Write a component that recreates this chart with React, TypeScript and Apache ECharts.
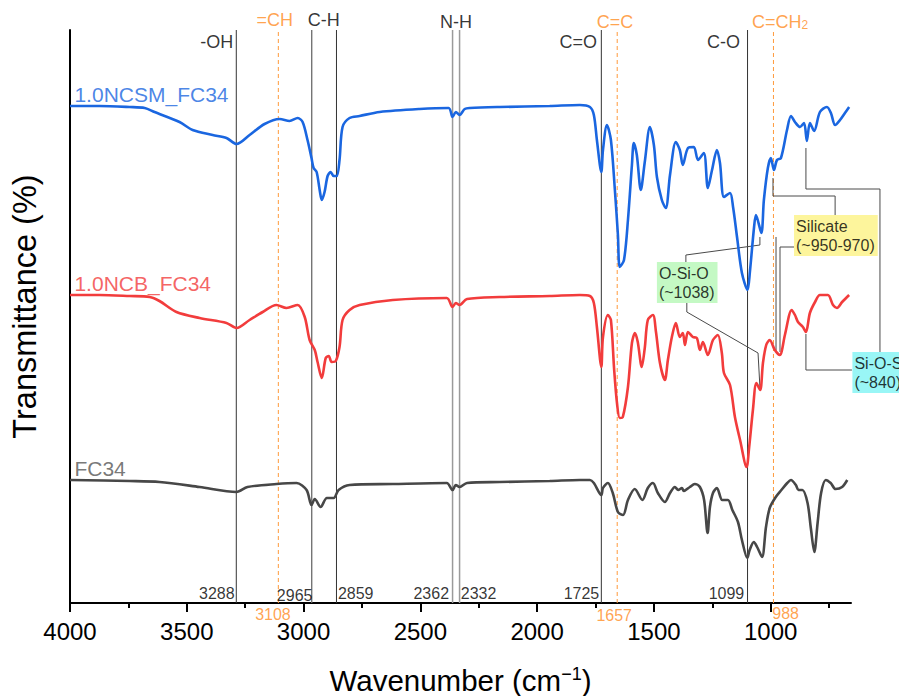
import React, { useEffect, useRef } from 'react';
import * as echarts from 'echarts';

const FONT = '"Liberation Sans", Arial, Helvetica, sans-serif';
const BLACK = '#000000';
const ORANGE = '#ff8c1f';

// ---- spectra (wavenumber cm-1, offset transmittance a.u.) ----
const seriesNames = ['1.0NCSM_FC34', '1.0NCB_FC34', 'FC34'];
const seriesColors = ['#1a66e0', '#f23c3c', '#474747'];

const ncsmData: [number, number][] = [
  [4000, 497], [3874, 497], [3745, 496], [3680, 495], [3638, 491], [3531, 481], [3475, 473], [3389, 468],
  [3330, 465], [3287, 459], [3231, 468], [3167, 479], [3102, 484], [3060, 482], [3025, 485], [3004, 481],
  [2983, 463], [2966, 445], [2957, 435], [2944, 431], [2931, 413], [2922, 403], [2910, 411], [2897, 427],
  [2884, 431], [2871, 427], [2858, 427], [2846, 443], [2833, 476], [2803, 485], [2760, 487], [2674, 491],
  [2503, 494], [2379, 495], [2362, 486], [2348, 491], [2332, 488], [2310, 494], [2288, 495], [2160, 496],
  [1946, 497], [1817, 498], [1774, 496], [1757, 488], [1744, 463], [1725, 431], [1718, 453], [1701, 478],
  [1684, 463], [1667, 413], [1654, 368], [1646, 336], [1628, 343], [1611, 383], [1594, 438], [1586, 460],
  [1573, 448], [1556, 413], [1539, 441], [1517, 476], [1500, 458], [1487, 426], [1466, 403], [1449, 395],
  [1431, 428], [1406, 461], [1389, 453], [1376, 438], [1354, 455], [1329, 456], [1311, 443], [1286, 450],
  [1269, 415], [1251, 433], [1230, 453], [1217, 440], [1200, 406], [1174, 410], [1161, 396], [1144, 366],
  [1123, 330], [1099, 313], [1089, 331], [1071, 376], [1063, 388], [1040, 370], [1029, 403], [1012, 435],
  [999, 445], [986, 433], [973, 443], [956, 445], [930, 473], [913, 487], [896, 481], [874, 476],
  [857, 480], [845, 462], [832, 480], [814, 472], [789, 491], [759, 496], [742, 490], [724, 478],
  [703, 483], [682, 490], [664, 496],
];

const ncbData: [number, number][] = [
  [4000, 308], [3874, 308], [3745, 307], [3659, 306], [3617, 302], [3544, 291], [3445, 285], [3330, 280],
  [3287, 275], [3231, 283], [3175, 291], [3116, 298], [3073, 295], [3025, 298], [2995, 286], [2974, 263],
  [2952, 253], [2940, 241], [2922, 225], [2905, 245], [2892, 247], [2880, 241], [2862, 242], [2846, 256],
  [2833, 283], [2803, 293], [2760, 298], [2618, 303], [2387, 305], [2362, 296], [2348, 300], [2332, 298],
  [2300, 304], [2160, 306], [1946, 307], [1817, 308], [1774, 307], [1757, 300], [1744, 276], [1725, 236],
  [1718, 266], [1697, 288], [1684, 283], [1670, 233], [1658, 200], [1646, 185], [1633, 186], [1611, 216],
  [1594, 260], [1581, 270], [1569, 261], [1552, 236], [1539, 255], [1526, 283], [1504, 288], [1491, 271],
  [1474, 240], [1453, 223], [1440, 243], [1423, 266], [1406, 280], [1389, 266], [1376, 270], [1367, 258],
  [1354, 271], [1333, 266], [1316, 265], [1303, 253], [1290, 261], [1269, 248], [1247, 263], [1226, 268],
  [1209, 250], [1200, 230], [1174, 218], [1153, 186], [1131, 163], [1103, 136], [1092, 156], [1076, 193],
  [1061, 220], [1045, 213], [1033, 240], [1019, 258], [1004, 263], [982, 253], [961, 248], [939, 268],
  [910, 293], [896, 288], [883, 281], [862, 276], [849, 271], [832, 290], [810, 301], [789, 308],
  [755, 308], [733, 298], [716, 295], [694, 301], [664, 308],
];

const fc34Data: [number, number][] = [
  [4000, 123], [3745, 122], [3617, 121], [3445, 116], [3287, 111], [3240, 116], [3116, 119], [3030, 120],
  [2987, 113], [2966, 98], [2952, 104], [2927, 96], [2900, 105], [2871, 105], [2850, 113], [2803, 118],
  [2618, 119], [2387, 120], [2362, 113], [2348, 118], [2332, 116], [2300, 120], [2160, 121], [1946, 122],
  [1817, 123], [1774, 123], [1757, 120], [1725, 108], [1718, 115], [1697, 120], [1676, 110], [1654, 91],
  [1632, 88], [1611, 103], [1582, 114], [1549, 103], [1526, 115], [1504, 120], [1483, 110], [1453, 101],
  [1431, 110], [1410, 116], [1396, 113], [1380, 115], [1372, 112], [1346, 116], [1325, 119], [1303, 116],
  [1285, 103], [1270, 70], [1260, 96], [1247, 110], [1230, 115], [1207, 103], [1183, 103], [1164, 93],
  [1140, 81], [1123, 63], [1100, 45], [1090, 53], [1072, 61], [1058, 56], [1037, 46], [1020, 76],
  [1004, 95], [978, 106], [954, 113], [929, 120], [913, 123], [892, 118], [881, 113], [864, 113],
  [842, 100], [828, 75], [813, 51], [799, 80], [784, 110], [764, 123], [743, 120], [722, 114],
  [694, 116], [672, 123],
];

// ---- axes ----
const X_MIN = 656;
const X_MAX = 4000;
const Y_MAX = 573;
const majorTicks = [1000, 1500, 2000, 2500, 3000, 3500, 4000];
const minorTicks = [750, 1250, 1750, 2250, 2750, 3250, 3750];

const CHART_W = 899;
const CHART_H = 696;
const GRID = { left: 70, right: 48, top: 30, bottom: 93 };
// wide overlay grid (same scale, reaching the right edge) for leader lines
const X_MIN_WIDE =
  X_MAX - ((CHART_W - GRID.left) * (X_MAX - X_MIN)) / (CHART_W - GRID.left - GRID.right);

// ---- band marker lines ----
const solidMarkers = [3288, 2965, 2859, 1725, 1099];
const nhMarkers = [2362, 2332];
const dashedMarkers = [3108, 1657, 988];

// ---- annotation texts ----
type Lbl = {
  text: string; wn: number; v: number; align: 'left' | 'center' | 'right';
  vAlign?: 'top' | 'middle'; color: string; size: number; bg?: string;
};

const bandLabels: Lbl[] = [
  { text: '-OH', wn: 3301, v: 561, align: 'right', color: BLACK, size: 18 },
  { text: '=CH', wn: 3123, v: 583, align: 'center', color: ORANGE, size: 18 },
  { text: 'C-H', wn: 2914, v: 583, align: 'center', color: BLACK, size: 18 },
  { text: 'N-H', wn: 2347, v: 581, align: 'center', color: BLACK, size: 18 },
  { text: 'C=O', wn: 1744, v: 561, align: 'right', color: BLACK, size: 18 },
  { text: 'C=C', wn: 1666, v: 581, align: 'center', color: ORANGE, size: 18 },
  { text: 'C-O', wn: 1131, v: 561, align: 'right', color: BLACK, size: 18 },
  { text: '{a|C=CH}{s|2}', wn: 1080, v: 581, align: 'left', color: ORANGE, size: 18 },
];

const positionLabels: Lbl[] = [
  { text: '3288', wn: 3295, v: 10, align: 'right', color: BLACK, size: 16 },
  { text: '2965', wn: 2962, v: 8, align: 'right', color: BLACK, size: 16 },
  { text: '2859', wn: 2853, v: 10, align: 'left', color: BLACK, size: 16 },
  { text: '2362', wn: 2377, v: 10, align: 'right', color: BLACK, size: 16 },
  { text: '2332', wn: 2327, v: 10, align: 'left', color: BLACK, size: 16 },
  { text: '1725', wn: 1734, v: 10, align: 'right', color: BLACK, size: 16 },
  { text: '1099', wn: 1113, v: 10, align: 'right', color: BLACK, size: 16 },
  { text: '3108', wn: 3131, v: -11, align: 'center', color: ORANGE, size: 16 },
  { text: '1657', wn: 1670, v: -12, align: 'center', color: ORANGE, size: 16 },
  { text: '988', wn: 993, v: -10, align: 'left', color: ORANGE, size: 16 },
];

const nameLabels: Lbl[] = [
  { text: seriesNames[0], wn: 3981, v: 509, align: 'left', color: seriesColors[0], size: 21 },
  { text: seriesNames[1], wn: 3981, v: 320, align: 'left', color: seriesColors[1], size: 21 },
  { text: seriesNames[2], wn: 3981, v: 135, align: 'left', color: '#555555', size: 21 },
];

const boxLabels: Lbl[] = [
  { text: 'Silicate\n(~950-970)', wn: 900, v: 388, align: 'left', vAlign: 'top', color: BLACK, size: 16, bg: '#fdf383' },
  { text: 'O-Si-O\n(~1038)', wn: 1487, v: 341, align: 'left', vAlign: 'top', color: BLACK, size: 16, bg: '#b5f7b5' },
  { text: 'Si-O-Si\n(~840)', wn: 650, v: 251, align: 'left', vAlign: 'top', color: BLACK, size: 16, bg: '#80f4f4' },
];

// ---- leader lines (wavenumber, a.u.) ----
const leaders: [number, number][][] = [
  [[1363, 341], [1363, 348], [1046, 358], [1046, 366]],
  [[1359, 300], [1359, 291], [1054, 250], [1046, 216]],
  [[990, 425], [990, 407], [724, 407], [724, 388]],
  [[977, 366], [977, 251]],
  [[900, 356], [960, 356], [960, 251]],
  [[849, 455], [849, 414], [532, 414], [532, 251]],
  [[849, 269], [849, 233], [652, 233]],
];

function labelItem(l: Lbl) {
  return {
    value: [l.wn, l.v],
    label: {
      show: true,
      position: 'inside',
      formatter: l.text,
      align: l.align,
      verticalAlign: l.vAlign || 'middle',
      color: l.color,
      fontSize: l.size,
      fontFamily: FONT,
      backgroundColor: l.bg || 'transparent',
      padding: l.bg ? [2, 3, 1, 2] : 0,
      lineHeight: l.bg ? 19 : undefined,
      rich: {
        a: { fontSize: l.size, color: l.color, fontFamily: FONT },
        s: { fontSize: 12, color: l.color, fontFamily: FONT, verticalAlign: 'bottom' },
      },
    },
  };
}

function buildOption() {
  const series: any[] = [];
  const vline = (wn: number, color: string, width: number, type: any) => ({
    type: 'line', data: [[wn, 0], [wn, Y_MAX]], symbol: 'none', silent: true, z: 1,
    lineStyle: { color, width, type },
  });
  solidMarkers.forEach((w) => series.push(vline(w, w === 2965 ? '#6a6a6a' : '#333333', w === 2965 ? 1.3 : 1, 'solid')));
  nhMarkers.forEach((w) => series.push(vline(w, '#9a9a9a', 1.5, 'solid')));
  dashedMarkers.forEach((w) => series.push(vline(w, '#ff9a3c', 1, [4, 3])));

  leaders.forEach((pts) => series.push({
    type: 'line', data: pts, symbol: 'none', silent: true, clip: false, z: 2,
    xAxisIndex: 2, yAxisIndex: 1,
    lineStyle: { color: '#4a4a4a', width: 1 },
  }));

  [ncsmData, ncbData, fc34Data].forEach((d, i) => series.push({
    type: 'line', name: seriesNames[i], data: d, symbol: 'none', smooth: 0.3, z: 4,
    lineStyle: { color: seriesColors[i], width: 2.6 },
  }));

  series.push({
    type: 'scatter', silent: true, clip: false, z: 6, symbolSize: 1,
    itemStyle: { color: 'rgba(0,0,0,0)' },
    data: [...bandLabels, ...positionLabels, ...nameLabels, ...boxLabels].map(labelItem),
  });

  return {
    animation: false,
    backgroundColor: '#ffffff',
    grid: [
      { ...GRID, containLabel: false, outerBoundsMode: 'none' },
      { left: GRID.left, right: 0, top: GRID.top, bottom: GRID.bottom, containLabel: false, outerBoundsMode: 'none' },
    ],
    xAxis: [
      {
        type: 'value', inverse: true, min: X_MIN, max: X_MAX, position: 'bottom', gridIndex: 0,
        axisLine: { show: true, onZero: false, lineStyle: { color: BLACK, width: 2 } },
        axisTick: { show: true, inside: false, customValues: majorTicks, length: 9, lineStyle: { color: BLACK, width: 2 } },
        axisLabel: {
          show: true, customValues: majorTicks, fontSize: 24, color: BLACK, fontFamily: FONT, margin: 16,
          formatter: (v: number) => String(v),
        },
        splitLine: { show: false },
        name: '{a|Wavenumber (cm}{b|−1}{a|)}',
        nameLocation: 'middle', nameGap: 62,
        nameTextStyle: {
          rich: {
            a: { fontSize: 29.5, color: BLACK, fontFamily: FONT },
            b: { fontSize: 18, color: BLACK, fontFamily: FONT, verticalAlign: 'top' },
          },
        },
      },
      {
        type: 'value', inverse: true, min: X_MIN, max: X_MAX, position: 'bottom', gridIndex: 0,
        axisLine: { show: false, onZero: false },
        axisTick: { show: true, inside: false, customValues: minorTicks, length: 5, lineStyle: { color: BLACK, width: 2 } },
        axisLabel: { show: false },
        splitLine: { show: false },
      },
      {
        type: 'value', inverse: true, min: X_MIN_WIDE, max: X_MAX, gridIndex: 1, show: false,
        splitLine: { show: false },
      },
    ],
    yAxis: [
      {
        type: 'value', min: 0, max: Y_MAX, gridIndex: 0,
        axisLine: { show: true, onZero: false, lineStyle: { color: BLACK, width: 2 } },
        axisTick: { show: false }, axisLabel: { show: false }, splitLine: { show: false },
        name: 'Transmittance (%)', nameLocation: 'middle', nameGap: 29, nameRotate: 90,
        nameTextStyle: { fontSize: 32.5, color: BLACK, fontFamily: FONT, padding: [0, 0, 0, 20] },
      },
      {
        type: 'value', min: 0, max: Y_MAX, gridIndex: 1, show: false, splitLine: { show: false },
      },
    ],
    series,
  };
}

export default function App() {
  const ref = useRef<HTMLDivElement>(null);
  useEffect(() => {
    if (!ref.current) return;
    const chart = echarts.init(ref.current, null, { renderer: 'svg' });
    chart.setOption(buildOption() as any);
    return () => chart.dispose();
  }, []);
  return (
    <div
      ref={ref}
      style={{ position: 'fixed', left: 0, top: 0, width: CHART_W, height: CHART_H, background: '#ffffff' }}
    />
  );
}
